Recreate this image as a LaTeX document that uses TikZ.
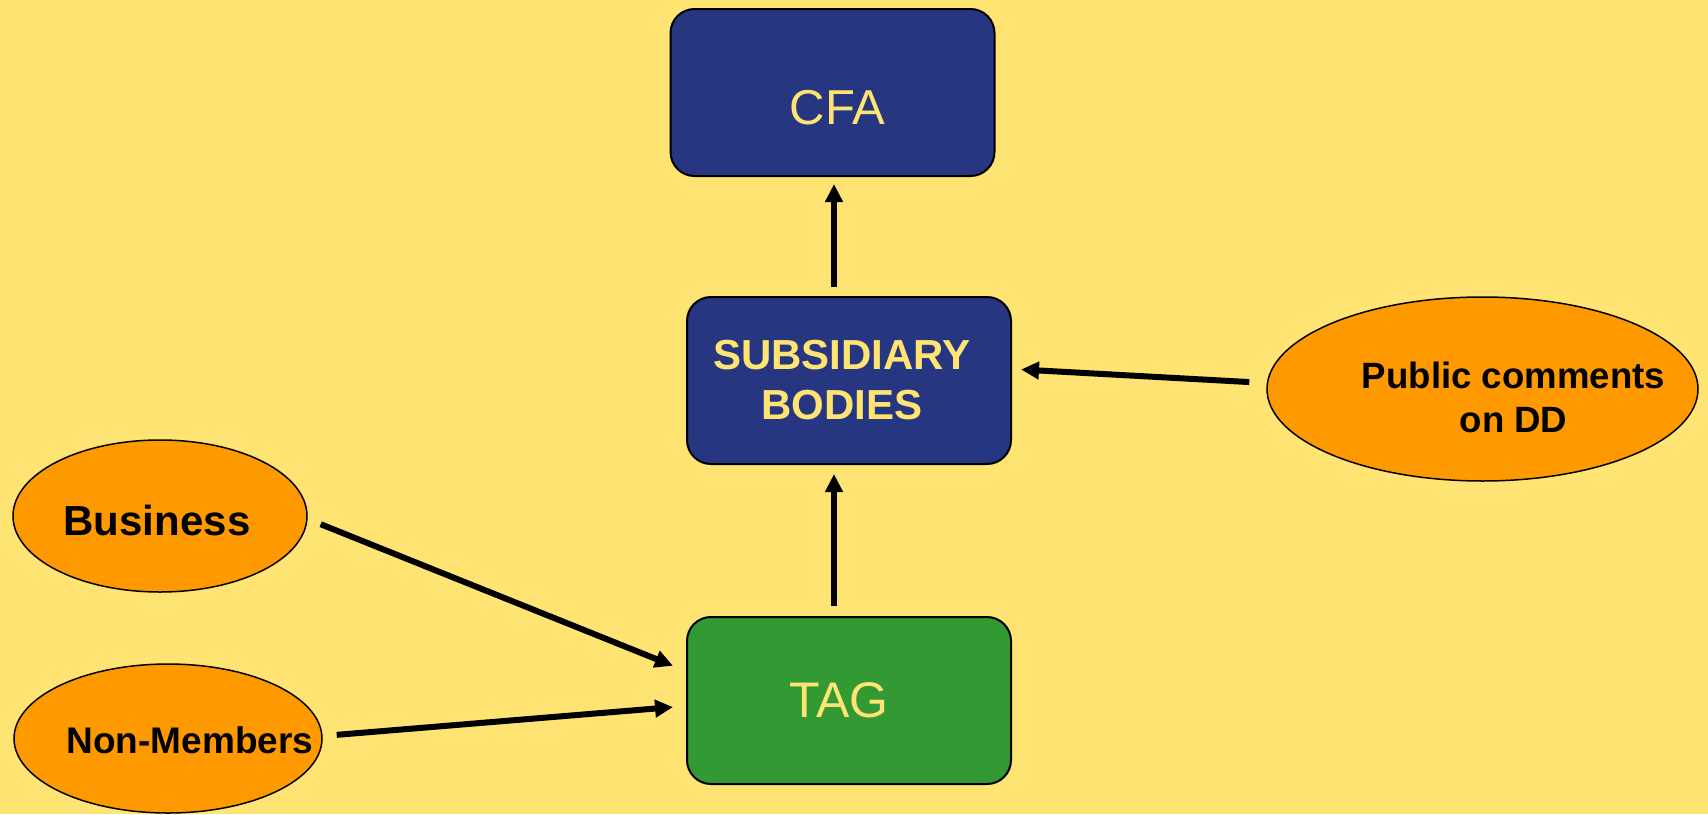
\documentclass[tikz,border=0pt]{standalone}
\usepackage{fontspec}
\setmainfont{Liberation Sans}
\usepackage{xcolor}
\usetikzlibrary{shapes, arrows.meta}
\definecolor{padyellow}{RGB}{255,228,115}
\definecolor{boardblue}{RGB}{39,54,128}
\definecolor{taggreen}{RGB}{51,153,51}
\definecolor{inputorange}{RGB}{255,153,0}

\begin{document}
\begin{tikzpicture}[x=0.5pt,y=-0.5pt,
  board/.style={draw=black, line width=1pt, rounded corners=12pt, fill=boardblue,
    minimum width=162pt, minimum height=83.5pt, inner sep=0pt},
  input/.style={ellipse, draw=black, line width=0.75pt, fill=inputorange, inner sep=0pt},
  flow/.style={-{Triangle[length=9pt,width=8.5pt]}, line width=3pt},
  lite/.style={text=padyellow, font=\fontsize{#1}{30}\selectfont},
  heavy/.style={text=black, align=center, font=\fontsize{#1}{22}\selectfont\bfseries}]
  \path[use as bounding box, fill=padyellow] (0,0) rectangle (1708,814);

  % boards
  \node[board, label={[lite=24.5, xshift=2.5pt, yshift=-7.5pt]center:CFA}] (cfa) at (832.5,92.5) {};
  \node[board, label={[heavy=21, text=padyellow, font=\fontsize{21}{25}\selectfont\bfseries, xshift=-3.5pt]center:SUBSIDIARY\\BODIES}] (sub) at (849,380.5) {};
  \node[board, fill=taggreen, label={[lite=25, xshift=-5pt]center:TAG}] (tag) at (849,700.5) {};

  % inputs
  \node[input, minimum width=215.5pt, minimum height=92pt,
    label={[heavy=18.3, xshift=15.5pt, yshift=-4pt]center:Public comments\\on DD}] (pub) at (1482.5,389) {};
  \node[input, minimum width=147pt, minimum height=76pt,
    label={[heavy=21, xshift=-1.5pt, yshift=-2pt]center:Business}] (biz) at (160,516) {};
  \node[input, minimum width=154pt, minimum height=74.5pt,
    label={[heavy=18.5, xshift=11pt, yshift=-1pt]center:Non-Members}] (non) at (168,738.5) {};

  % arrows
  \draw[flow, shorten <=4.5pt, shorten >=3.5pt] ([xshift=-7.5pt]sub.north) -- ([xshift=-7.5pt]sub.north |- cfa.south);
  \draw[flow, shorten <=5pt, shorten >=4.5pt] ([xshift=-7.5pt]tag.north) -- ([xshift=-7.5pt]tag.north |- sub.south);
  \draw[flow, shorten <=8.5pt, shorten >=4.5pt] ([yshift=3pt]pub.west) -- ([yshift=5.75pt]sub.east);
  \draw[flow, shorten <=7pt, shorten >=7pt] ([yshift=-1.5pt]biz.east) -- ([yshift=14.75pt]tag.west);
  \draw[flow, shorten <=7pt, shorten >=6.5pt] ([yshift=1.25pt]non.east) -- ([yshift=-2.75pt]tag.west);
\end{tikzpicture}
\end{document}
